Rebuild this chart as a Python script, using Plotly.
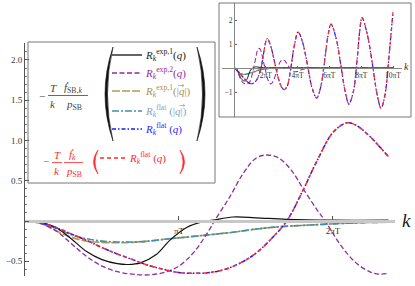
import plotly.graph_objects as go

# ---------------- data (k in units of pi*T) ----------------
k_black = [0, 0.1, 0.2, 0.3, 0.4, 0.5, 0.6, 0.67, 0.75, 0.85, 0.94, 1.05, 1.15, 1.22, 1.35, 1.5, 1.7, 2.0, 2.36, 3, 4, 6, 8, 10]
r_exp1_q = [0, -0.02, -0.08, -0.22, -0.38, -0.48, -0.53, -0.54, -0.52, -0.42, -0.24, -0.08, -0.01, 0.01, 0.05, 0.04, 0.02, 0.01, 0.01, 0.005, 0, 0, 0, 0]

k_exp2 = [0, 0.1, 0.2, 0.3, 0.4, 0.5, 0.6, 0.7, 0.8, 0.9, 1.0, 1.1, 1.2, 1.23, 1.33, 1.42, 1.5, 1.57, 1.65, 1.73, 1.81, 1.9, 1.95, 2.05, 2.15, 2.25, 2.3, 2.36,
          2.5, 2.7, 2.9, 3.05, 3.2, 3.45, 3.7, 3.95, 4.3, 4.8, 5.5, 7, 10]
r_exp2_q = [0, -0.03, -0.12, -0.28, -0.44, -0.56, -0.63, -0.66, -0.67, -0.64, -0.56, -0.38, -0.1, 0, 0.3, 0.6, 0.78, 0.82, 0.78, 0.63, 0.39, 0.13, 0, -0.3, -0.52, -0.64, -0.66, -0.65,
            -0.5, -0.1, 0.25, 0.35, 0.3, 0.05, -0.12, -0.15, -0.06, 0.02, 0, 0, 0]

k_flat = [0, 0.1, 0.2, 0.3, 0.4, 0.5, 0.6, 0.7, 0.8, 0.9, 1.0, 1.12, 1.2, 1.3, 1.4, 1.5, 1.6, 1.7, 1.8, 1.9, 2.0, 2.09, 2.15, 2.24, 2.36,
          2.6, 2.8, 3.0, 3.15, 3.35, 3.55, 3.8, 4.03, 4.3, 4.6, 4.9, 5.2, 5.45, 5.7, 5.9, 6.1, 6.4, 6.7, 7.0, 7.23, 7.5, 7.75, 7.9, 8.05,
          8.35, 8.7, 9.0, 9.25, 9.5, 9.75, 9.9, 10.0]
r_flat_q = [0, -0.02, -0.08, -0.16, -0.24, -0.33, -0.41, -0.48, -0.55, -0.6, -0.64, -0.65, -0.64, -0.6, -0.52, -0.4, -0.22, 0.0, 0.36, 0.76, 1.1, 1.22, 1.19, 1.05, 0.8,
            0.1, -0.45, -0.8, -0.9, -0.75, -0.1, 0.95, 1.5, 1.1, 0.2, -0.8, -1.25, -0.8, 0.3, 1.3, 1.83, 1.3, 0.2, -1.0, -1.5, -1.0, 0.4, 1.5, 2.1,
            1.5, 0.2, -1.1, -1.67, -1.1, 0.5, 1.6, 2.33]

k_abs = [0, 0.1, 0.2, 0.3, 0.4, 0.5, 0.6, 0.7, 0.8, 0.94, 1.1, 1.2, 1.35, 1.5, 1.66, 1.85, 2.0, 2.2, 2.36, 3, 4, 6, 10]
r_exp1_abs = [0, -0.03, -0.12, -0.2, -0.25, -0.265, -0.27, -0.265, -0.25, -0.22, -0.19, -0.17, -0.14, -0.1, -0.07, -0.05, -0.035, -0.02, -0.015, -0.01, 0, 0, 0]
r_flat_abs = [0, -0.02, -0.09, -0.17, -0.22, -0.25, -0.26, -0.26, -0.25, -0.22, -0.19, -0.17, -0.14, -0.1, -0.07, -0.05, -0.035, -0.02, -0.015, -0.01, 0, 0, 0]

main_ticks = [1, 2]
main_ticklabels = ["πT", "2πT"]
y_ticks = [-0.5, 0, 0.5, 1.0, 1.5, 2.0]
y_ticklabels = ["−0.5", "", "0.5", "1.0", "1.5", "2.0"]
inset_xticks = [2, 4, 6, 8, 10]
inset_xticklabels = ["2πT", "4πT", "6πT", "8πT", "10πT"]
inset_yticks = [-1, 1, 2]
inset_yticklabels = ["−1", "1", "2"]
K_MAIN_MAX = 2.36

# ---------------- geometry helpers ----------------
W, H = 415, 286
def px(x): return x / W
def py(y): return 1 - y / H

SERIF = "Liberation Serif"
C_BLACK, C_PURPLE, C_OLIVE, C_TEAL, C_BLUE, C_RED = "#111111", "#922b9e", "#b39a55", "#3f8fae", "#1a1aff", "#ff2a2a"

series = [
    (k_abs, r_exp1_abs, C_OLIVE, "8px,2px", 1.7),
    (k_abs, r_flat_abs, C_TEAL, "7px,2px,2px,2px", 1.6),
    (k_black, r_exp1_q, C_BLACK, "solid", 1.2),
    (k_exp2, r_exp2_q, C_PURPLE, "5px,2.5px", 1.3),
    (k_flat, r_flat_q, C_BLUE, "4px,2px,1.5px,2px", 1.5),
    (k_flat, r_flat_q, C_RED, "4px,3.5px", 1.5),
]

fig = go.Figure()
for k, r, c, d, w in series:
    kk = [a for a in k if a <= K_MAIN_MAX + 1e-9]
    fig.add_trace(go.Scatter(x=kk, y=r[:len(kk)], mode="lines", xaxis="x", yaxis="y",
                             line=dict(color=c, dash=d, width=w, shape="spline"),
                             showlegend=False, hoverinfo="skip"))
for k, r, c, d, w in series:
    fig.add_trace(go.Scatter(x=k, y=r, mode="lines", xaxis="x2", yaxis="y2",
                             line=dict(color=c, dash=d, width=w * 0.8, shape="spline"),
                             showlegend=False, hoverinfo="skip"))

# main axes
y_dom = [py(276), py(43)]
y_rng = [-0.683, 2.211]
x0_pos = y_dom[0] + (0 - y_rng[0]) / (y_rng[1] - y_rng[0]) * (y_dom[1] - y_dom[0])
# inset axes
y2_dom = [py(117), py(3)]
y2_rng = [-2.04, 2.71]
x2_pos = y2_dom[0] + (0 - y2_rng[0]) / (y2_rng[1] - y2_rng[0]) * (y2_dom[1] - y2_dom[0])
x2_dom = [px(222), px(402)]
x2_rng = [-0.755, 10.566]
y2_pos = x2_dom[0] + (0 - x2_rng[0]) / (x2_rng[1] - x2_rng[0]) * (x2_dom[1] - x2_dom[0])

tickfont = dict(family=SERIF, size=9, color="#333")
fig.update_layout(
    width=W, height=H, margin=dict(l=0, r=0, t=0, b=0),
    paper_bgcolor="white", plot_bgcolor="white",
    xaxis=dict(domain=[px(25), px(395)], range=[0, 2.403], anchor="free", position=x0_pos,
               showline=True, linecolor="#c8c8c8", linewidth=2.5, ticks="inside", ticklen=4,
               tickcolor="#555", tickwidth=1, tickmode="array", tickvals=main_ticks, ticktext=main_ticklabels,
               showgrid=False, zeroline=False, tickfont=tickfont),
    yaxis=dict(domain=y_dom, range=y_rng, anchor="x", showline=True, linecolor="#555", linewidth=1,
               ticks="inside", ticklen=4, tickcolor="#555", tickmode="array", tickvals=y_ticks,
               ticktext=y_ticklabels, showgrid=False, zeroline=False, tickfont=tickfont,
               minor=dict(dtick=0.1, tick0=0, ticks="inside", ticklen=2, tickcolor="#777")),
    xaxis2=dict(domain=x2_dom, range=x2_rng, anchor="free", position=x2_pos, showline=True,
                linecolor="#888", linewidth=1, ticks="inside", ticklen=2, tickcolor="#666",
                tickmode="array", tickvals=inset_xticks, ticktext=inset_xticklabels,
                showgrid=False, zeroline=False, tickfont=dict(family=SERIF, size=7.5, color="#333")),
    yaxis2=dict(domain=y2_dom, range=y2_rng, anchor="free", position=y2_pos, showline=True,
                linecolor="#888", linewidth=1, ticks="inside", ticklen=2, tickcolor="#666",
                tickmode="array", tickvals=inset_yticks, ticktext=inset_yticklabels,
                showgrid=False, zeroline=False, tickfont=dict(family=SERIF, size=7.5, color="#333")),
)

shapes = []
def rect(x0, y0, x1, y1, color="#777", w=1):
    shapes.append(dict(type="rect", xref="paper", yref="paper", x0=px(x0), y0=py(y0), x1=px(x1), y1=py(y1),
                       line=dict(color=color, width=w)))
def hline(x0, x1, y, color, dash="solid", w=1.0):
    shapes.append(dict(type="line", xref="paper", yref="paper", x0=px(x0), y0=py(y), x1=px(x1), y1=py(y),
                       line=dict(color=color, width=w, dash=dash)))
def paren(xe, y0, y1, xm_out, xm_in, color):
    cy = (y0 + y1) / 2
    co = 2 * xm_out - xe
    ci = 2 * xm_in - xe
    path = (f"M {px(xe)} {py(y0)} Q {px(co)} {py(cy)} {px(xe)} {py(y1)} "
            f"Q {px(ci)} {py(cy)} {px(xe)} {py(y0)} Z")
    shapes.append(dict(type="path", xref="paper", yref="paper", path=path,
                       fillcolor=color, line=dict(color=color, width=0.6)))
def vec_arrow(xc, y, color):
    # small vector arrow drawn above a letter
    shapes.append(dict(type="path", xref="paper", yref="paper",
                       path=(f"M {px(xc - 2.8)} {py(y)} L {px(xc + 2.8)} {py(y)} "
                             f"M {px(xc + 1.2)} {py(y - 1.3)} L {px(xc + 2.8)} {py(y)} L {px(xc + 1.2)} {py(y + 1.3)}"),
                       line=dict(color=color, width=0.7)))

rect(28, 42, 215, 183)
rect(219, 3, 411, 117)
# fraction bars
hline(48, 58, 95.5, "#444", w=0.8)
hline(58, 88, 95.5, "#444", w=0.8)
hline(52, 62, 162.5, C_RED, w=0.8)
hline(64, 83, 162.5, C_RED, w=0.8)
# parentheses
paren(113, 47, 141, 105, 107.5, "#111")
paren(197, 47, 141, 205, 202.5, "#111")
paren(98, 150, 174, 93.5, 95, C_RED)
paren(180, 150, 174, 184.5, 183, C_RED)
# legend samples
leg_rows = [(55, C_BLACK, "solid", 1.3), (73, C_PURPLE, "5px,2.5px", 1.3), (91, C_OLIVE, "8px,2px", 1.6),
            (111, C_TEAL, "7px,2px,2px,2px", 1.5), (129, C_BLUE, "4px,2px,1.5px,2px", 1.5)]
for y, c, d, w in leg_rows:
    hline(112, 142, y, c, d, w)
hline(100, 125, 158, C_RED, "4px,3px", 1.5)
vec_arrow(181, 85.5, "#a8924e")
vec_arrow(182, 105.5, "#7fa3c8")

ann = []
def txt(x, y, s, color="#333", size=11, xanchor="center"):
    ann.append(dict(x=px(x), y=py(y), xref="paper", yref="paper", text=s, showarrow=False,
                    xanchor=xanchor, yanchor="middle", font=dict(family=SERIF, size=size, color=color)))

txt(413, 220, "<i>k</i>", "#222", 19, "right")
txt(406, 66, "<i>k</i>", "#333", 10)
# prefactor black
txt(41.5, 96, "−", "#444", 11)
txt(53, 88, "<i>T</i>", "#444", 11)
txt(53, 104, "<i>k</i>", "#444", 11)
txt(73, 88.5, "<i>ḟ</i><sub>SB,<i>k</i></sub>", "#444", 11)
txt(74, 105, "<i>p</i><sub>SB</sub>", "#444", 11)
# prefactor red
txt(46, 161, "−", C_RED, 11)
txt(57, 155, "<i>T</i>", C_RED, 11)
txt(57, 170.5, "<i>k</i>", C_RED, 11)
txt(72, 155, "<i>ḟ</i><sub><i>k</i></sub>", C_RED, 11)
txt(74, 171.5, "<i>p</i><sub>SB</sub>", C_RED, 11)
# legend labels
labels = [(55, "#222", "<i>R</i><sub><i>k</i></sub><sup>exp,1</sup>(<i>q</i>)"),
          (73, C_PURPLE, "<i>R</i><sub><i>k</i></sub><sup>exp,2</sup>(<i>q</i>)"),
          (91, "#a8924e", "<i>R</i><sub><i>k</i></sub><sup>exp,1</sup>(|<i>q</i>|)"),
          (111, "#7fa3c8", "<i>R</i><sub><i>k</i></sub><sup>flat</sup> (|<i>q</i>|)"),
          (129, "#2a2aff", "<i>R</i><sub><i>k</i></sub><sup>flat</sup> (<i>q</i>)")]
for y, c, s in labels:
    txt(143, y, s, c, 11, "left")
txt(127, 158, "<i>R</i><sub><i>k</i></sub><sup>flat</sup> (<i>q</i>)", C_RED, 11, "left")

fig.update_layout(shapes=shapes, annotations=ann)
fig.write_html("out.html", config={"displayModeBar": False},
               post_script="document.body.style.margin='0';document.body.style.overflow='hidden';")
